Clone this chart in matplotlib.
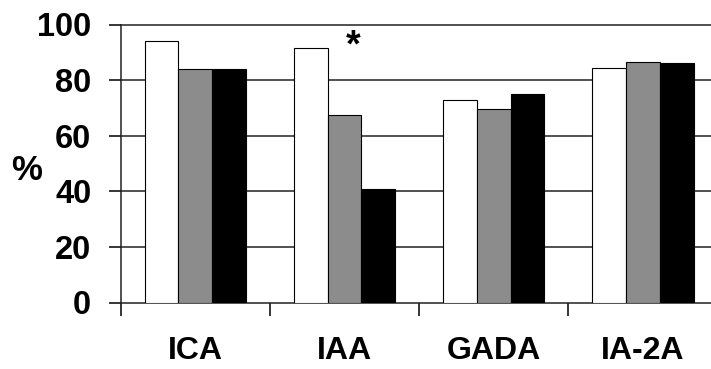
import numpy as np
import matplotlib
matplotlib.use('Agg')
import matplotlib.pyplot as plt

# data
categories = ['ICA', 'IAA', 'GADA', 'IA-2A']
white_vals = [94, 91.5, 73, 84.5]
gray_vals = [84, 67.5, 69.5, 86.5]
black_vals = [84, 41, 75, 86]
yticks = [0, 20, 40, 60, 80, 100]

plt.rcParams['font.family'] = ['Liberation Sans', 'DejaVu Sans']
plt.rcParams['font.weight'] = 'bold'

fig = plt.figure(figsize=(7.11, 3.69), dpi=100)
ax = fig.add_axes([120.5/711, 66.5/369, 597.2/711, 278/369])

x = np.arange(len(categories)) + 0.5
w = 0.226
ax.bar(x - w, white_vals, w, color='white', edgecolor='black', linewidth=0.8, zorder=3)
ax.bar(x, gray_vals, w, color='#8c8c8c', edgecolor='black', linewidth=0.8, zorder=3)
ax.bar(x + w, black_vals, w, color='black', edgecolor='black', linewidth=0.8, zorder=3)

ax.set_xlim(0, 4)
ax.set_ylim(0, 100)
ax.set_yticks(yticks)
ax.set_yticklabels([str(v) for v in yticks], fontsize=23.5, fontweight='bold')
for v in yticks[1:]:
    ax.axhline(v, color='#222222', lw=1.1, zorder=1, clip_on=False)

# category boundaries as ticks, names as minor labels
ax.set_xticks([0, 1, 2, 3])
ax.set_xticklabels([])
ax.set_xticks(x, minor=True)
ax.set_xticklabels(categories, minor=True, fontsize=23, fontweight='bold')
ax.tick_params(axis='x', which='major', length=9, width=1.1, direction='out')
ax.tick_params(axis='x', which='minor', length=0, pad=24)
ax.tick_params(axis='y', length=9, width=1.1, direction='out', pad=12)

for s in ['top', 'right']:
    ax.spines[s].set_visible(False)
for s in ['left', 'bottom']:
    ax.spines[s].set_linewidth(1.1)
    ax.spines[s].set_color('#222222')

ax.text(1.557, 92, '*', fontsize=27, fontweight='bold', ha='center', va='center')
fig.text(27/711, 1 - 171/369, '%', fontsize=25, fontweight='bold', ha='center', va='center')

fig.savefig('out.png', dpi=100)
